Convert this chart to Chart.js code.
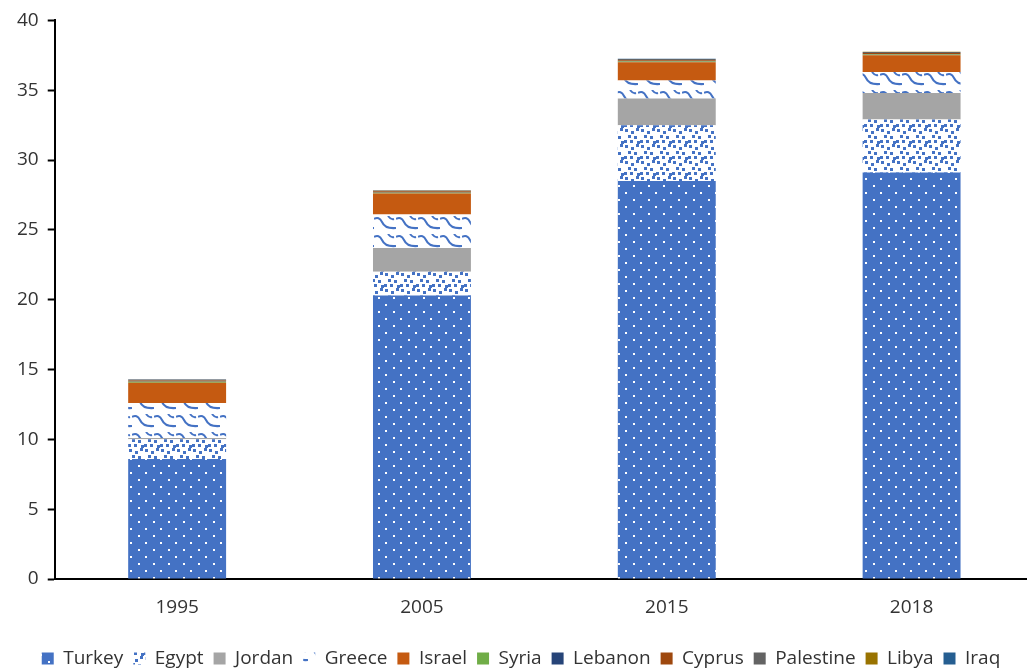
<!DOCTYPE html>
<html>
<head>
<meta charset="utf-8">
<script src="https://cdn.jsdelivr.net/npm/chart.js@4/dist/chart.umd.min.js"></script>
<style>
  html, body { margin: 0; padding: 0; background: #fff; overflow: hidden; }
  #wrap { width: 1034px; height: 678px; }
</style>
</head>
<body>
<div id="wrap"><canvas id="chart"></canvas></div>
<script>
// chart data
const years = ['1995', '2005', '2015', '2018'];
const turkey = [8.6, 20.3, 28.5, 29.1];
const egypt = [1.4, 1.7, 4.0, 3.8];
const jordan = [0.1, 1.7, 1.9, 1.9];
const greece = [2.5, 2.4, 1.3, 1.5];
const israel = [1.45, 1.5, 1.3, 1.2];
const syria = [0.07, 0.06, 0.06, 0.06];
const lebanon = [0.02, 0.02, 0.02, 0.02];
const cyprus = [0.07, 0.08, 0.07, 0.08];
const palestine = [0.07, 0.06, 0.08, 0.08];
const libya = [0.01, 0.01, 0.01, 0.01];
const iraq = [0.01, 0.01, 0.01, 0.01];
const yTicks = [0, 5, 10, 15, 20, 25, 30, 35, 40];

// small tiles for the patterned fills
function makePattern(w, h, bg, draw) {
    const c = document.createElement('canvas');
    c.width = w;
    c.height = h;
    const ctx = c.getContext('2d');
    ctx.fillStyle = bg;
    ctx.fillRect(0, 0, w, h);
    draw(ctx);
    return ctx.createPattern(c, 'repeat');
}

const blue = '#4472C4';

// blue with small white dots
const dotsFill = makePattern(15, 14, blue, function (ctx) {
    ctx.fillStyle = '#fff';
    ctx.fillRect(3, 3, 2, 2);
    ctx.fillRect(10, 10, 2, 2);
});

// white with scattered blue squares
const confettiFill = makePattern(16, 16, '#fff', function (ctx) {
    ctx.fillStyle = blue;
    const sq = [[1, 1], [7, 3], [12, 0], [4, 7], [10, 8], [0, 12], [6, 12], [13, 13]];
    sq.forEach(function (p) { ctx.fillRect(p[0], p[1], 3, 3); });
});

// white with blue wave lines
const waveFill = makePattern(22, 18, '#fff', function (ctx) {
    ctx.strokeStyle = blue;
    ctx.lineWidth = 2;
    ctx.beginPath();
    ctx.moveTo(0, 3);
    ctx.quadraticCurveTo(5, 0, 8, 6);
    ctx.quadraticCurveTo(11, 13, 22, 12);
    ctx.stroke();
    ctx.beginPath();
    ctx.moveTo(14, 0);
    ctx.quadraticCurveTo(17, 4, 20, 3);
    ctx.stroke();
});

function series(label, data, fill) {
    return {
        label: label,
        data: data,
        backgroundColor: fill,
        borderWidth: 0,
        barPercentage: 0.4,
        categoryPercentage: 1.0
    };
}

const tickFont = { family: 'Open Sans', size: 19 };
const legendFont = { family: 'Open Sans', size: 19 };

new Chart(document.getElementById('chart'), {
    type: 'bar',
    data: {
        labels: years,
        datasets: [
            series('Turkey', turkey, dotsFill),
            series('Egypt', egypt, confettiFill),
            series('Jordan', jordan, '#A5A5A5'),
            series('Greece', greece, waveFill),
            series('Israel', israel, '#C55A11'),
            series('Syria', syria, '#70AD47'),
            series('Lebanon', lebanon, '#264478'),
            series('Cyprus', cyprus, '#9E480E'),
            series('Palestine', palestine, '#636363'),
            series('Libya', libya, '#997300'),
            series('Iraq', iraq, '#255E91')
        ]
    },
    options: {
        responsive: true,
        maintainAspectRatio: false,
        animation: false,
        layout: { padding: { top: 3, right: 0, bottom: 0, left: 8 } },
        scales: {
            x: {
                stacked: true,
                grid: { display: false },
                border: { color: '#000', width: 2 },
                ticks: { color: '#333', font: tickFont, padding: 9 },
                // leave room between the year labels and the legend
                afterFit: function (axis) { axis.height = 60; }
            },
            y: {
                stacked: true,
                min: 0,
                max: 40,
                afterBuildTicks: function (axis) {
                    axis.ticks = yTicks.map(function (v) { return { value: v }; });
                },
                grid: {
                    drawOnChartArea: false,
                    color: '#000',
                    tickLength: 7,
                    tickWidth: 2
                },
                border: { color: '#000', width: 2 },
                ticks: { color: '#333', font: tickFont, padding: 9 }
            }
        },
        plugins: {
            legend: {
                display: true,
                position: 'bottom',
                labels: {
                    color: '#333',
                    font: legendFont,
                    boxWidth: 12,
                    boxHeight: 12,
                    padding: 10
                }
            },
            tooltip: { enabled: true }
        }
    }
});
</script>
</body>
</html>
